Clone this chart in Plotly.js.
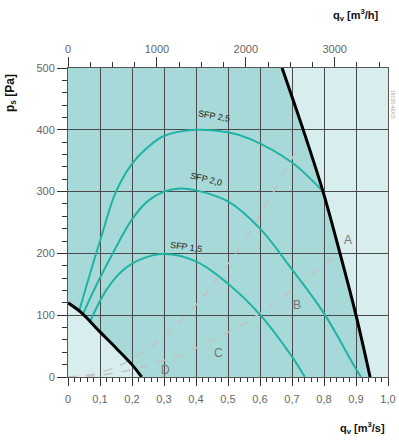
<!DOCTYPE html>
<html>
<head>
<meta charset="utf-8">
<script src="https://cdn.plot.ly/plotly-3.0.1.min.js"></script>
<style>html,body{margin:0;padding:0;background:#fff;}#chart{width:399px;height:442px;}</style>
</head>
<body>
<div id="chart"></div>
<script>
// Bottom axis (m3/s) ticks
var xTickVals = [0,0.1,0.2,0.3,0.4,0.5,0.6,0.7,0.8,0.9,1.0];
var xTickText = ['0','0,1','0,2','0,3','0,4','0,5','0,6','0,7','0,8','0,9','1,0'];
// Top axis (m3/h) ticks
var x2TickVals = [0,1000,2000,3000];
var x2TickText = ['0','1000','2000','3000'];
// Left axis (Pa) ticks
var yTickVals = [0,100,200,300,400,500];
var yTickText = ['0','100','200','300','400','500'];

// Upper fan limit line (black)
var limHighX = [0.669,0.735,0.797,0.85,0.90,0.944];
var limHighY = [500,400,300,200,100,0];
// Lower limit line (black)
var limLowX = [0,0.04,0.1,0.15,0.2,0.23];
var limLowY = [120,105,73,47,20,0];

// Fan curves (teal)
var curve25X = [0.035,0.063,0.1,0.15,0.2,0.25,0.3,0.4,0.5,0.57,0.7,0.797];
var curve25Y = [107,157,220,300,345,372,390,400,396,385,347,300];
var curve20X = [0.046,0.09,0.15,0.2,0.25,0.3,0.35,0.4,0.5,0.6,0.7,0.8,0.9,0.916];
var curve20Y = [101,150,210,255,285,300,305,302,284,240,174,103,13,0];
var curve15X = [0.069,0.12,0.17,0.225,0.3,0.4,0.5,0.6,0.7,0.74];
var curve15Y = [90,141,172,190,199,187,151,101,33,0];

// System curves (grey dashed)
var sysSteepX = [0,0.1,0.2,0.3,0.4,0.5,0.6,0.715];
var sysSteepY = [0,7,29,66,117,183,262,368];
var sysFlatX = [0,0.1,0.2,0.3,0.4,0.5,0.6,0.7,0.84];
var sysFlatY = [0,3,12,27,47,72,103,140,197];

// Labels
var sfpLabels = ['SFP 2,5','SFP 2,0','SFP 1,5'];
var sfpLabelX = [0.455,0.43,0.37];
var sfpLabelY = [423,320,211];
var sfpLabelAngle = [10,14,8];
var pointLabels = ['A','B','C','D'];
var pointLabelX = [0.875,0.715,0.47,0.305];
var pointLabelY = [222,117,39,11];

var teal = '#1fb3a6';
var traces = [
  {x: sysSteepX, y: sysSteepY, mode:'lines', line:{color:'#c2c2c2', width:1.5, dash:'dash', shape:'spline'}, hoverinfo:'skip'},
  {x: sysFlatX, y: sysFlatY, mode:'lines', line:{color:'#c2c2c2', width:1.5, dash:'dash', shape:'spline'}, hoverinfo:'skip'},
  {x: curve25X, y: curve25Y, mode:'lines', line:{color:teal, width:2, shape:'spline'}},
  {x: curve20X, y: curve20Y, mode:'lines', line:{color:teal, width:2, shape:'spline'}},
  {x: curve15X, y: curve15Y, mode:'lines', line:{color:teal, width:2, shape:'spline'}},
  {x: limHighX, y: limHighY, mode:'lines', line:{color:'#000', width:3, shape:'spline'}},
  {x: limLowX, y: limLowY, mode:'lines', line:{color:'#000', width:3, shape:'spline'}},
  {x: [0,3600], y: [0,0], xaxis:'x2', yaxis:'y', mode:'lines', line:{width:0}, opacity:0, hoverinfo:'skip'}
];

// Dark operating region built from the two limit lines
var path = 'M ' + limLowX[0] + ' ' + limLowY[0];
for (var i = 1; i < limLowX.length; i++) path += ' L ' + limLowX[i] + ' ' + limLowY[i];
for (var j = limHighX.length - 1; j >= 0; j--) path += ' L ' + limHighX[j] + ' ' + limHighY[j];
path += ' L 0 ' + limHighY[0] + ' Z';

var annotations = [];
for (var k = 0; k < sfpLabels.length; k++) {
  annotations.push({x: sfpLabelX[k], y: sfpLabelY[k], xref:'x', yref:'y', text: sfpLabels[k], showarrow:false,
    textangle: sfpLabelAngle[k], font:{family:'Liberation Sans, Arial', size:9, color:'#222'}});
}
for (var m = 0; m < pointLabels.length; m++) {
  annotations.push({x: pointLabelX[m], y: pointLabelY[m], xref:'x', yref:'y', text: pointLabels[m], showarrow:false,
    font:{family:'Liberation Sans, Arial', size:12, color:'#777'}});
}
annotations.push({xref:'paper', yref:'paper', x:-0.18, y:0.92, text:'<b>p<sub>s</sub> [Pa]</b>', textangle:-90, showarrow:false,
  xanchor:'center', yanchor:'middle', font:{family:'Liberation Sans, Arial', size:12, color:'#111'}});
annotations.push({xref:'paper', yref:'paper', x:0.90, y:1.17, text:'<b>q<sub>v</sub> [m<sup>3</sup>/h]</b>', showarrow:false,
  xanchor:'center', yanchor:'middle', font:{family:'Liberation Sans, Arial', size:11, color:'#111'}});
annotations.push({xref:'paper', yref:'paper', x:0.92, y:-0.165, text:'<b>q<sub>v</sub> [m<sup>3</sup>/s]</b>', showarrow:false,
  xanchor:'center', yanchor:'middle', font:{family:'Liberation Sans, Arial', size:11, color:'#111'}});
annotations.push({xref:'paper', yref:'paper', x:1.0156, y:0.88, text:'16035-4E/05', textangle:90, showarrow:false,
  xanchor:'center', yanchor:'middle', font:{family:'Liberation Sans, Arial', size:5, color:'#aaa'}});

var tickFont = {family:'Liberation Sans, Arial', size:11, color:'#666'};
var layout = {
  width:399, height:442,
  margin:{l:68, r:11, t:68, b:65},
  paper_bgcolor:'#ffffff',
  plot_bgcolor:'#d8eded',
  showlegend:false,
  xaxis:{range:[0,1], tickmode:'array', tickvals:xTickVals, ticktext:xTickText, ticks:'outside', ticklen:8, tickcolor:'#333',
    showgrid:true, gridcolor:'#4a4a4a', gridwidth:1, zeroline:false, showline:true, linecolor:'#555', mirror:false,
    tickfont:tickFont, fixedrange:true, ticklabelstandoff:4,
    minor:{tick0:0, dtick:0.02, ticks:'outside', ticklen:4, tickcolor:'#333', showgrid:false}},
  xaxis2:{overlaying:'x', side:'top', range:[0,3600], tickmode:'array', tickvals:x2TickVals, ticktext:x2TickText,
    ticks:'outside', ticklen:10, tickcolor:'#333', showgrid:false, zeroline:false, showline:true, linecolor:'#555',
    tickfont:tickFont, fixedrange:true,
    minor:{tick0:0, dtick:250, ticks:'outside', ticklen:5, tickcolor:'#333', showgrid:false}},
  yaxis:{range:[0,500], tickmode:'array', tickvals:yTickVals, ticktext:yTickText, ticks:'outside', ticklen:10, tickcolor:'#333',
    showgrid:true, gridcolor:'#4a4a4a', gridwidth:1, zeroline:false, showline:true, linecolor:'#555', mirror:true,
    tickfont:tickFont, fixedrange:true,
    minor:{tick0:0, dtick:20, ticks:'outside', ticklen:5, tickcolor:'#333', showgrid:false}},
  shapes:[{type:'path', path:path, xref:'x', yref:'y', fillcolor:'#a8d9d9', line:{width:0}, layer:'below'}],
  annotations:annotations
};
Plotly.newPlot('chart', traces, layout, {displayModeBar:false, staticPlot:true});
</script>
</body>
</html>
